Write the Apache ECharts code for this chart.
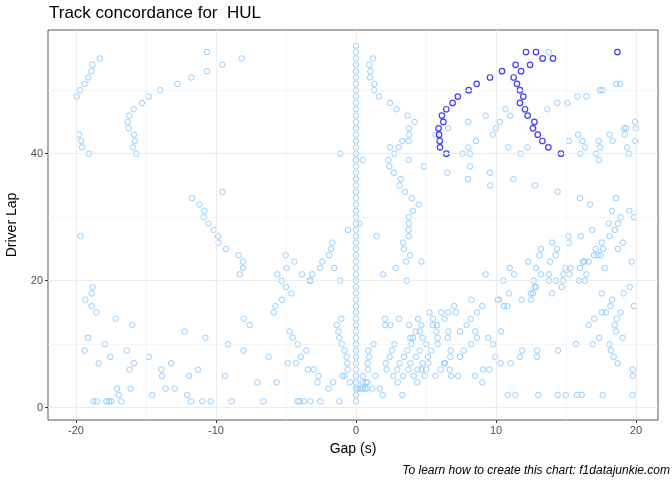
<!DOCTYPE html>
<html>
<head>
<meta charset="utf-8">
<script src="https://cdn.jsdelivr.net/npm/echarts@6/dist/echarts.min.js"></script>
<style>
  html, body { margin: 0; padding: 0; background: #fff; }
  #chart { width: 672px; height: 480px; }
</style>
</head>
<body>
<div id="chart"></div>
<script>
// ticks and grid positions
var xTicks = [-20, -10, 0, 10, 20];
var xMinor = [-15, -5, 5, 15];
var yTicks = [0, 20, 40];
var yMinor = [10, 30, 50];

// other drivers: [lap, [gaps...]]
var otherRows = [
    [57, [0]],
    [56, [0, -10.64, 13.76]],
    [55, [0, -18.3, -8.17, 1.21]],
    [54, [0, -18.83, -9.55, 0.95]],
    [53, [0, -18.9, -10.64, 1.02]],
    [52, [0, -19.14, -11.76, 1.0]],
    [51, [0, -19.38, -12.76, 1.31, 18.57, 18.86]],
    [50, [0, -19.71, -13.98, 1.29, 17.43, 17.6]],
    [49, [0, -19.95, -14.81, 1.64, 15.81, 16.45]],
    [48, [0, -15.29, 2.43, 14.38, 15.1]],
    [47, [0, -15.88, 2.9, 10.67, 13.67]],
    [46, [0, -16.19, 3.69, 9.26, 11.0]],
    [45, [0, -16.31, 4.19, 8.02, 10.26, 19.93]],
    [44, [0, -16.24, 3.79, 6.57, 10.0, 19.14, 19.29, 20.0]],
    [43, [0, -19.79, -15.86, 3.81, 5.67, 9.76, 15.86, 18.12, 19.19]],
    [42, [0, -19.62, -15.81, 3.31, 3.76, 8.57, 15.21, 16.17, 17.33, 18.33, 19.95]],
    [41, [0, -19.57, -15.93, 2.43, 3.05, 8.02, 10.88, 12.24, 16.36, 17.43, 19.36]],
    [40, [0, -19.07, -15.69, -1.12, 2.74, 7.62, 8.14, 11.76, 16.02, 17.14, 19.48]],
    [39, [0, 0.48, 2.31, 3.76, 17.36]],
    [38, [0, 2.38, 4.86, 8.14]],
    [37, [0, 2.71, 6.52, 9.57]],
    [36, [0, 3.21, 8.0, 11.24]],
    [35, [0, 3.1, 9.59, 12.79]],
    [34, [0, -9.55, 3.5, 14.4]],
    [33, [0, -11.71, 3.98, 16.0, 18.57]],
    [32, [0, -11.19, 4.48, 16.71]],
    [31, [0, -10.83, 4.07, 18.29, 19.52]],
    [30, [0, -10.88, 3.76, 18.9, 19.86]],
    [29, [0, 0.24, -10.55, 3.76, 18.05, 18.71]],
    [28, [0, -10.17, -0.57, 3.76, 16.88, 18.48]],
    [27, [0, -19.69, -9.86, 1.48, 3.76, 15.17, 16.05, 18.12]],
    [26, [0, -9.81, -1.69, 3.36, 14.0, 15.2, 17.55, 19.07]],
    [25, [0, -9.29, -1.79, 3.43, 13.21, 14.36, 17.12, 17.64, 18.71]],
    [24, [0, -8.38, -5.02, -1.93, 3.86, 13.1, 14.26, 17.0, 17.26, 17.48]],
    [23, [0, -8.07, -4.4, -2.4, 3.57, 4.67, 12.29, 13.86, 16.21, 16.31, 16.62, 19.69]],
    [22, [0, -8.07, -4.95, -2.55, -1.55, 2.83, 10.98, 12.86, 14.95, 15.33, 16.0, 17.76]],
    [21, [0, -8.31, -5.62, -3.86, -3.12, 1.93, 9.26, 11.29, 13.21, 13.79, 14.81, 15.24, 16.45]],
    [20, [0, -5.31, -3.31, -3.24, -1.12, 3.62, 10.52, 12.69, 13.79, 14.29, 14.81, 15.93, 16.36]],
    [19, [0, -18.81, -5.0, 12.76, 12.86, 14.69, 19.55]],
    [18, [0, -18.88, -4.62, 10.93, 12.48, 12.64, 14.0, 17.55, 19.12]],
    [17, [0, -19.33, -5.29, 8.24, 10.12, 10.21, 11.83, 12.5, 18.29]],
    [16, [0, -18.88, -5.76, 7.0, 9.02, 10.57, 10.81, 18.17, 19.86]],
    [15, [0, -18.55, -5.86, 5.24, 6.1, 6.6, 7.14, 8.64, 17.55, 17.86, 18.9]],
    [14, [0, -17.17, -8.02, -1.05, 2.07, 3.07, 4.43, 5.5, 6.33, 8.21, 17.02, 18.62]],
    [13, [0, -15.98, -7.6, -1.38, 2.07, 2.45, 3.79, 4.67, 5.48, 5.79, 7.9, 16.62, 18.48]],
    [12, [0, -12.24, -4.74, -1.26, 4.26, 4.57, 5.74, 6.6, 7.43, 8.52, 10.36, 18.57]],
    [11, [0, -19.14, -10.76, -4.52, -1.19, 3.88, 4.07, 4.76, 5.83, 6.55, 8.64, 9.45, 17.36, 19.05]],
    [10, [0, -17.93, -9.14, -4.17, -1.02, 1.26, 2.74, 3.95, 5.02, 5.83, 8.21, 9.79, 15.71, 16.9, 18.1]],
    [9, [0, -19.38, -16.36, -8.05, -3.55, -0.81, 0.88, 2.57, 3.67, 4.55, 5.36, 6.76, 7.69, 11.88, 12.93, 14.43, 18.21]],
    [8, [0, -17.55, -14.79, -6.24, -3.95, -0.67, 0.93, 2.4, 3.43, 4.29, 5.14, 6.74, 7.43, 9.95, 11.71, 12.93, 18.4]],
    [7, [0, -18.38, -15.86, -13.21, -4.88, -4.29, -0.62, 0.83, 2.12, 3.12, 3.88, 4.76, 5.17, 6.29, 6.36, 10.33, 11.05, 18.69]],
    [6, [0, -16.17, -13.9, -11.29, -3.43, -3.02, -0.6, 0.86, 2.19, 2.95, 3.74, 4.4, 4.67, 5.02, 6.05, 6.69, 9.07, 9.52, 19.76]],
    [5, [0, -13.86, -11.93, -9.36, -2.69, -0.98, -0.81, 0.48, 1.38, 2.67, 3.36, 4.12, 4.9, 5.67, 6.79, 7.29, 8.5, 19.76]],
    [4, [0, -7.05, -5.67, -2.76, -1.64, -0.45, 0.48, 0.69, 0.81, 2.98, 4.38, 9.02]],
    [3, [0, -17.07, -16.1, -13.6, -12.95, -1.95, 0.1, 0.29, 0.48, 0.64, 0.76, 1.17, 1.69]],
    [2, [0, -16.95, -14.55, -12.07, 1.9, 3.31, 10.83, 11.38, 13.02, 14.4, 14.98, 15.79, 16.12, 17.62, 19.76]],
    [1, [0, -18.76, -18.52, -17.83, -17.64, -17.48, -16.76, -11.79, -10.98, -10.38, -8.88, -6.62, -4.17, -4.02, -3.74, -3.26, -2.55, -1.19]]
];

// HUL laps: [lap, [gaps...]]
var hulRows = [
    [56, [12.14, 12.86, 18.67]],
    [55, [13.33, 14.07]],
    [54, [11.4, 12.43]],
    [53, [10.43, 11.79]],
    [52, [9.57, 11.26]],
    [51, [8.62, 11.5]],
    [50, [8.05, 11.71]],
    [49, [7.27, 11.95]],
    [48, [6.9, 11.71]],
    [47, [6.45, 12.07]],
    [46, [6.14, 12.26]],
    [45, [6.24, 12.74]],
    [44, [5.9, 12.64]],
    [43, [5.93, 12.98]],
    [42, [5.98, 13.31]],
    [41, [6.0, 13.74]],
    [40, [6.45, 14.64]]
];

function toPoints(rows) {
    var out = [];
    rows.forEach(function (r) {
        r[1].forEach(function (g) {
            out.push([g, r[0]]);
        });
    });
    return out;
}

var FONT = "Liberation Sans, Arial, sans-serif";
var gridMajor = { color: "#EBEBEB", width: 1.1, type: "solid" };
var gridMinor = { color: "#F0F0F0", width: 0.7, type: "solid" };

var gridLines = [];
xTicks.forEach(function (v) { gridLines.push({ xAxis: v, lineStyle: gridMajor }); });
xMinor.forEach(function (v) { gridLines.push({ xAxis: v, lineStyle: gridMinor }); });
yTicks.forEach(function (v) { gridLines.push({ yAxis: v, lineStyle: gridMajor }); });
yMinor.forEach(function (v) { gridLines.push({ yAxis: v, lineStyle: gridMinor }); });

var chart = echarts.init(document.getElementById("chart"), null, { renderer: "canvas" });

chart.setOption({
    animation: false,
    backgroundColor: "#fff",
    title: [
        {
            text: "Track concordance for  HUL",
            left: 49,
            top: 5,
            padding: 0,
            textStyle: { fontFamily: FONT, fontSize: 17, fontWeight: "normal", color: "#000" }
        },
        {
            text: "To learn how to create this chart: f1datajunkie.com",
            right: 2,
            top: 465,
            padding: 0,
            textStyle: { fontFamily: FONT, fontSize: 12, fontWeight: "normal", fontStyle: "italic", color: "#000" }
        }
    ],
    grid: {
        left: 48, right: 14, top: 30, bottom: 60,
        outerBoundsMode: "none",
        show: true,
        borderColor: "#5a5a5a",
        borderWidth: 1,
        backgroundColor: "transparent"
    },
    xAxis: {
        type: "value",
        min: -22,
        max: 21.57,
        name: "Gap (s)",
        nameLocation: "middle",
        nameGap: 22,
        nameTextStyle: { fontFamily: FONT, fontSize: 14, color: "#000" },
        axisLine: { show: false, onZero: false },
        axisTick: { show: true, customValues: xTicks, length: 3, lineStyle: { color: "#333" } },
        axisLabel: { customValues: xTicks, margin: 5, fontFamily: FONT, fontSize: 11, color: "#4D4D4D" },
        splitLine: { show: false }
    },
    yAxis: {
        type: "value",
        min: -1.94,
        max: 59.48,
        name: "Driver Lap",
        nameLocation: "middle",
        nameGap: 29,
        nameRotate: 90,
        nameTextStyle: { fontFamily: FONT, fontSize: 14, color: "#000" },
        axisLine: { show: false, onZero: false },
        axisTick: { show: true, customValues: yTicks, length: 3, lineStyle: { color: "#333" } },
        axisLabel: { customValues: yTicks, margin: 5, fontFamily: FONT, fontSize: 11, color: "#4D4D4D" },
        splitLine: { show: false }
    },
    series: [
        {
            // gridlines only
            type: "line",
            data: [],
            z: 0,
            silent: true,
            markLine: {
                silent: true,
                symbol: "none",
                label: { show: false },
                animation: false,
                data: gridLines
            }
        },
        {
            name: "others",
            type: "scatter",
            data: toPoints(otherRows),
            symbol: "circle",
            symbolSize: 5.5,
            z: 2,
            itemStyle: { color: "rgba(0,0,0,0)", borderColor: "#7DC3FF", borderWidth: 1 }
        },
        {
            name: "HUL",
            type: "scatter",
            data: toPoints(hulRows),
            symbol: "circle",
            symbolSize: 5.5,
            z: 3,
            itemStyle: { color: "rgba(0,0,0,0)", borderColor: "#1010F0", borderWidth: 1.2 }
        }
    ]
});
</script>
</body>
</html>
